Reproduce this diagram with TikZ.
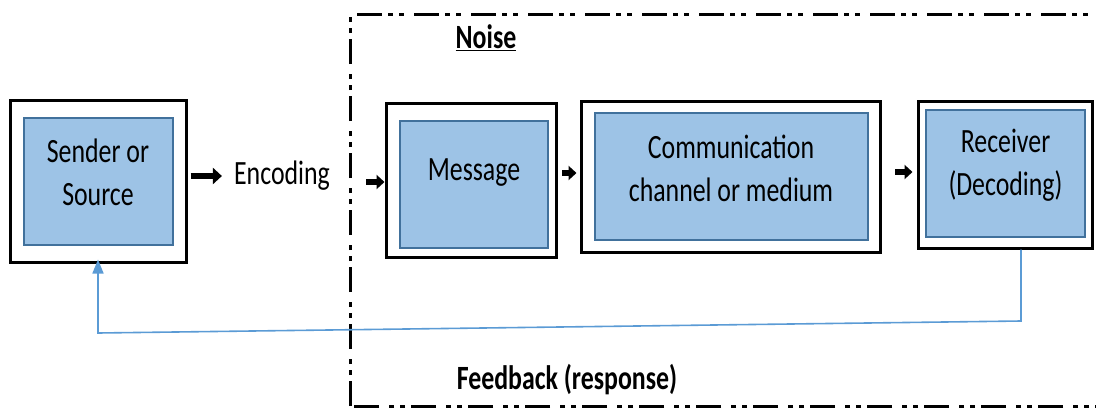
\documentclass[tikz,border=0pt]{standalone}
\usepackage{fontspec}
\setmainfont[FakeStretch=0.76]{Carlito}
\usetikzlibrary{arrows.meta}
\definecolor{boxfill}{HTML}{9DC3E6}
\definecolor{boxline}{HTML}{41719C}
\definecolor{fbline}{HTML}{5B9BD5}
\begin{document}
\begin{tikzpicture}[x=1pt,y=-1pt,
  outerbox/.style={draw=black,line width=3pt,fill=white,inner sep=0pt},
  innerbox/.style={draw=boxline,line width=2pt,fill=boxfill,inner sep=0pt},
  txt/.style={font=\fontsize{34}{43}\selectfont,align=center,inner sep=0pt},
  btxt/.style={font=\fontsize{34}{40}\selectfont\bfseries,inner sep=0pt},
  blockarrow/.style={line width=5.5pt,-{Triangle[length=8pt,width=14pt]}},
  bigarrow/.style={line width=6.5pt,-{Triangle[length=9pt,width=16pt]}},
  fbarrow/.style={draw=fbline,line width=1.6pt,-{Triangle[length=14pt,width=11pt]}},
  noiseframe/.style={line width=3pt,dash pattern=on 25pt off 6pt on 5pt off 6pt on 5pt off 10pt}]
\useasboundingbox (0,0) rectangle (1096,408);
\begin{scope}
\clip (0,0) rectangle (1096,408);
\draw[noiseframe] (350,406) -- (350,14) -- (1120,14);
\draw[noiseframe] (1120,406) -- (350,406);
\end{scope}
% boxes
\node[outerbox,minimum width=176pt,minimum height=162pt] (send) at (98,181) {};
\node[innerbox,minimum width=149pt,minimum height=127pt] (sendin) at (98.5,181.5) {};
\node[txt] (sendt) at (98,172) {Sender or\\Source};
\node[outerbox,minimum width=170pt,minimum height=154pt] (msg) at (471,180) {};
\node[innerbox,minimum width=148pt,minimum height=127pt] (msgin) at (474,184.5) {};
\node[txt] (msgt) at (474,173) {Message};
\node[outerbox,minimum width=299pt,minimum height=151pt] (chan) at (730.5,176.5) {};
\node[innerbox,minimum width=273pt,minimum height=127pt] (chanin) at (731.5,176.5) {};
\node[txt] (chant) at (731,168.5) {Communication\\channel or medium};
\node[outerbox,minimum width=174pt,minimum height=147pt] (recv) at (1005,174.5) {};
\node[innerbox,minimum width=159pt,minimum height=127pt] (recvin) at (1005.5,173.5) {};
\node[txt] (recvt) at (1005.5,165.5) {Receiver\\(Decoding)};
% texts
\node[txt] (enc) at (282,176) {Encoding};
\node[btxt] (noise) at (486,38) {\underline{Noise}};
\node[btxt] (fb) at (567,380) {Feedback (response)};
% arrows
\coordinate (a1) at (366,182);
\coordinate (a2) at (562,173);
\coordinate (a3) at (895,172);
\draw[bigarrow] ([xshift=3pt]send.east |- enc.west) -- ([xshift=-12pt]enc.west);
\draw[blockarrow] (a1) -- (msg.west |- a1);
\draw[blockarrow] (a2) -- ([xshift=-3pt]chan.west |- a2);
\draw[blockarrow] (a3) -- ([xshift=-4pt]recv.west |- a3);
% feedback
\coordinate (fb1) at (1021,321);
\coordinate (fb2) at (98,333);
\draw[fbarrow] (recv.south -| fb1) -- (fb1) -- (fb2) -- ([yshift=4pt]send.south);
\end{tikzpicture}
\end{document}
